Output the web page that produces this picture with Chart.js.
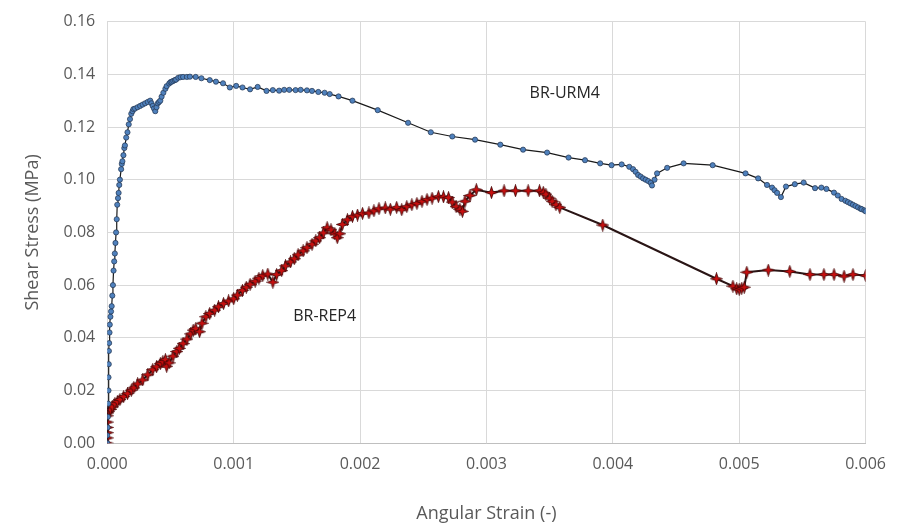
<!DOCTYPE html>
<html>
<head>
<meta charset="utf-8">
<script src="https://cdn.jsdelivr.net/npm/chart.js@4"></script>
<style>
  body { margin: 0; background: #fff; }
  #wrap { width: 898px; height: 529px; }
</style>
</head>
<body>
<div id="wrap"><canvas id="grafico" width="898" height="529"></canvas></div>
<script>
// BR-URM4 (azul)
const urmX = [0, 0, 0.000003, 0.000005, 0.000008, 0.00001, 0.00001, 0.000012, 0.000013, 0.000015, 0.000018, 0.00002,
  0.000025, 0.00003, 0.000035, 0.00004, 0.000045, 0.00005, 0.000055, 0.00006, 0.000065, 0.00007, 0.000075, 0.000079,
  0.000085, 0.00009, 0.000095, 0.0001, 0.00011, 0.000115, 0.00012, 0.000128, 0.000135, 0.00014, 0.00015, 0.00016,
  0.00017, 0.00018, 0.00019, 0.0002, 0.000207, 0.00022, 0.00024, 0.00026, 0.00028, 0.0003, 0.00032, 0.00034, 0.00035,
  0.00036, 0.00037, 0.00038, 0.00039, 0.0004, 0.00041, 0.00042, 0.00043, 0.000444, 0.00046, 0.00047, 0.00049, 0.0005,
  0.00051, 0.000522, 0.000535, 0.000545, 0.000562, 0.00058, 0.0006, 0.00063, 0.000654,
  0.0007, 0.000745, 0.000811, 0.00086, 0.000916, 0.00097, 0.00102, 0.00107, 0.00113, 0.00119, 0.00126, 0.00131, 0.00136,
  0.0014, 0.00144, 0.00149, 0.00153, 0.00158, 0.00162, 0.00167, 0.00172, 0.00176, 0.00183, 0.00194, 0.00214, 0.00238,
  0.00256, 0.00273, 0.00291, 0.00311, 0.00329, 0.00348, 0.00365, 0.00378, 0.0039, 0.00399, 0.00407, 0.00413, 0.00416,
  0.00418, 0.0042, 0.00422, 0.00424, 0.00426, 0.00428, 0.0043, 0.00431, 0.00433, 0.00435, 0.00443, 0.00456, 0.00479,
  0.00505, 0.00515, 0.00522, 0.00526, 0.00528, 0.0053, 0.00533, 0.00537, 0.00544, 0.00551, 0.0056, 0.00565, 0.00569,
  0.00575, 0.00578, 0.00581, 0.00584, 0.00586, 0.00588, 0.0059, 0.00592, 0.00594, 0.00596, 0.00597, 0.00599, 0.006];
const urmY = [0, 0.003, 0.006, 0.01, 0.015, 0.02, 0.025, 0.03, 0.035, 0.038, 0.042, 0.045,
  0.048, 0.05, 0.052, 0.056, 0.06, 0.0655, 0.069, 0.072, 0.076, 0.08, 0.085, 0.0905,
  0.093, 0.095, 0.098, 0.1, 0.104, 0.106, 0.107, 0.1093, 0.112, 0.113, 0.116, 0.118,
  0.121, 0.123, 0.125, 0.126, 0.1268, 0.127, 0.1275, 0.128, 0.1285, 0.129, 0.1295, 0.13, 0.129,
  0.128, 0.127, 0.126, 0.1275, 0.129, 0.1295, 0.13, 0.1315, 0.133, 0.1345, 0.1355, 0.1365, 0.137,
  0.1372, 0.1375, 0.1378, 0.138, 0.1387, 0.1389, 0.139, 0.139, 0.1391,
  0.139, 0.1385, 0.1378, 0.1372, 0.1366, 0.135, 0.1356, 0.135, 0.1343, 0.1352, 0.1337, 0.134, 0.1338,
  0.1341, 0.1341, 0.134, 0.1341, 0.1339, 0.1337, 0.1333, 0.133, 0.1325, 0.1316, 0.13, 0.1264, 0.1216,
  0.118, 0.1164, 0.1152, 0.1133, 0.1114, 0.1103, 0.1084, 0.1074, 0.1062, 0.1055, 0.1058, 0.1049, 0.104,
  0.103, 0.1018, 0.1012, 0.1005, 0.1, 0.0995, 0.0988, 0.0978, 0.1, 0.1024, 0.1045, 0.1062, 0.1055,
  0.1024, 0.1005, 0.098, 0.097, 0.096, 0.095, 0.0934, 0.0974, 0.0983, 0.0989, 0.0968, 0.097, 0.0965,
  0.0951, 0.094, 0.0927, 0.092, 0.0915, 0.091, 0.0905, 0.09, 0.0895, 0.089, 0.0888, 0.0884, 0.088];

// BR-REP4 (rojo)
const repX = [0, 0, 0, 0, 0, 0, 0.000005, 0.00001, 0.000024, 0.00004, 0.00006, 0.00008, 0.0001, 0.00013, 0.00016,
  0.00019, 0.00021, 0.00024, 0.00028, 0.00032, 0.00036, 0.00039, 0.00042, 0.00044, 0.00046, 0.00047, 0.00049, 0.00052,
  0.00055, 0.00057, 0.0006, 0.00063, 0.00066, 0.00068, 0.0007, 0.00073, 0.00075, 0.00078, 0.00081, 0.00085, 0.00088,
  0.00092, 0.00096, 0.001, 0.00103, 0.00107, 0.0011, 0.00113, 0.00117, 0.0012, 0.00123, 0.00127, 0.00131, 0.00134,
  0.00138, 0.00141, 0.00145, 0.00148, 0.00151, 0.00155, 0.00158, 0.00162, 0.00165, 0.00168, 0.00171, 0.00174, 0.00177,
  0.0018, 0.00182, 0.00184, 0.00186, 0.0019, 0.00194, 0.00198, 0.00202, 0.00207, 0.00211, 0.00215, 0.0022, 0.00224,
  0.00229, 0.00233, 0.00237, 0.00241, 0.00245, 0.00249, 0.00253, 0.00257, 0.00262, 0.00266, 0.0027, 0.00273, 0.00276,
  0.00279, 0.00281, 0.00283, 0.00287, 0.00292, 0.00304, 0.00314, 0.00323, 0.00333, 0.00342, 0.00345, 0.00347, 0.0035,
  0.00352, 0.00355, 0.00358, 0.00392, 0.00482, 0.00495, 0.00498, 0.005, 0.00502, 0.00504, 0.00506, 0.00523, 0.0054,
  0.00556, 0.00567, 0.00575, 0.00583, 0.0059, 0.006];
const repY = [0, 0.002, 0.004, 0.006, 0.008, 0.0104, 0.0115, 0.012, 0.0128, 0.0138, 0.015, 0.0158, 0.0166, 0.0177, 0.0188,
  0.0201, 0.021, 0.0225, 0.024, 0.026, 0.0279, 0.029, 0.0302, 0.031, 0.0317, 0.0292, 0.0305, 0.033,
  0.0348, 0.036, 0.0378, 0.0395, 0.0415, 0.0429, 0.0435, 0.0423, 0.0455, 0.048, 0.0492, 0.0505, 0.0518,
  0.053, 0.054, 0.0548, 0.0562, 0.058, 0.0592, 0.0603, 0.0615, 0.0626, 0.0636, 0.0642, 0.0611, 0.064,
  0.0655, 0.0673, 0.0688, 0.07, 0.0715, 0.073, 0.0742, 0.0755, 0.0768, 0.078, 0.0798, 0.0818, 0.081,
  0.0795, 0.078, 0.0795, 0.083, 0.0848, 0.0861, 0.0866, 0.0872, 0.0874, 0.0882, 0.089, 0.0893, 0.0888,
  0.0895, 0.0886, 0.0898, 0.0905, 0.091, 0.0918, 0.0925, 0.093, 0.0936, 0.0935, 0.0932, 0.0915, 0.0898,
  0.0888, 0.088, 0.0918, 0.094, 0.0962, 0.0951, 0.0958, 0.0958, 0.0958, 0.0958, 0.0952, 0.0945, 0.093,
  0.0918, 0.0905, 0.0895, 0.0828, 0.0624, 0.0596, 0.0586, 0.0584, 0.0588, 0.0592, 0.0649, 0.0657, 0.0652,
  0.064, 0.064, 0.064, 0.0634, 0.064, 0.0636];

const xTicks = [0, 0.001, 0.002, 0.003, 0.004, 0.005, 0.006];
const etiquetas = [
  { text: 'BR-URM4', x: 0.00362, y: 0.1326 },
  { text: 'BR-REP4', x: 0.00172, y: 0.048 }
];

const toPts = (xs, ys) => xs.map((x, i) => ({ x: x, y: ys[i] }));
const fuente = "'Open Sans', sans-serif";

// marcador de estrella de 4 puntas para BR-REP4
const estrella = document.createElement('canvas');
estrella.width = 13; estrella.height = 13;
const sc = estrella.getContext('2d');
sc.beginPath();
const c = 6.5, R = 6, r = 2;
for (let i = 0; i < 8; i++) {
  const a = i * Math.PI / 4 - Math.PI / 2;
  const rad = i % 2 === 0 ? R : r;
  const px = c + rad * Math.cos(a), py = c + rad * Math.sin(a);
  i === 0 ? sc.moveTo(px, py) : sc.lineTo(px, py);
}
sc.closePath();
sc.fillStyle = '#c81010';
sc.fill();
sc.strokeStyle = '#4a0808';
sc.lineWidth = 0.9;
sc.stroke();

const textoPlugin = {
  id: 'textos',
  afterDatasetsDraw(chart) {
    const ctx = chart.ctx;
    ctx.save();
    ctx.font = "16px " + fuente;
    ctx.fillStyle = '#262626';
    ctx.textAlign = 'center';
    ctx.textBaseline = 'middle';
    etiquetas.forEach(e => {
      ctx.fillText(e.text, chart.scales.x.getPixelForValue(e.x), chart.scales.y.getPixelForValue(e.y));
    });
    ctx.restore();
  }
};

const config = {
  type: 'scatter',
  data: {
    datasets: [{
      label: 'BR-URM4',
      data: toPts(urmX, urmY),
      showLine: true,
      borderColor: '#1a1a1a',
      borderWidth: 1.2,
      pointRadius: 2.6,
      pointBackgroundColor: '#4f81bd',
      pointBorderColor: '#22344d',
      pointBorderWidth: 0.7
    }, {
      label: 'BR-REP4',
      data: toPts(repX, repY),
      showLine: true,
      borderColor: '#2a1515',
      borderWidth: 2,
      pointStyle: estrella
    }]
  },
  options: {
    responsive: false,
    animation: false,
    layout: { padding: { top: 15, right: 30, left: 18, bottom: 0 } },
    plugins: { legend: { display: false }, tooltip: { enabled: false } },
    scales: {
      x: {
        type: 'linear',
        min: 0, max: 0.006,
        afterBuildTicks: (axis) => { axis.ticks = xTicks.map(v => ({ value: v })); },
        grid: { color: '#d9d9d9', drawTicks: false },
        border: { color: '#bfbfbf' },
        ticks: {
          color: '#595959', padding: 12,
          font: { family: fuente, size: 16 },
          callback: (v) => v.toFixed(3)
        },
        title: {
          display: true, text: 'Angular Strain (-)', color: '#595959',
          font: { family: fuente, size: 18 }, padding: { top: 17 }
        }
      },
      y: {
        min: 0, max: 0.16,
        grid: { color: '#d9d9d9', drawTicks: false },
        border: { display: false },
        ticks: {
          stepSize: 0.02, color: '#595959', padding: 12,
          font: { family: fuente, size: 16 },
          callback: (v) => v.toFixed(2)
        },
        title: {
          display: true, text: 'Shear Stress (MPa)', color: '#595959',
          font: { family: fuente, size: 18 }, padding: { bottom: 8 }
        }
      }
    }
  },
  plugins: [textoPlugin]
};

const grafico = new Chart(document.querySelector('#grafico'), config);
</script>
</body>
</html>
